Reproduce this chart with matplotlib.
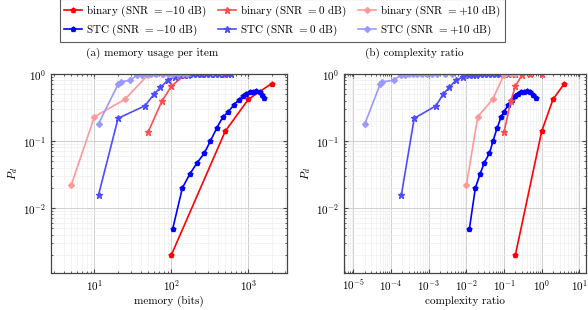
import matplotlib
matplotlib.use("Agg")
import matplotlib.pyplot as plt

plt.rcParams["font.family"] = ["cmr10", "DejaVu Serif"]
plt.rcParams["mathtext.fontset"] = "cm"
plt.rcParams["axes.formatter.use_mathtext"] = True
plt.rcParams["axes.unicode_minus"] = False

# binary, SNR = -10 dB
bin_m10_mem = [100, 500, 1000, 2000]
bin_m10_cx = [0.2, 1.0, 2.0, 4.0]
bin_m10_pd = [0.002, 0.14, 0.42, 0.72]

# binary, SNR = 0 dB
bin_0_mem = [50, 75, 100, 150, 250, 500]
bin_0_cx = [0.1, 0.15, 0.2, 0.3, 0.5, 1.0]
bin_0_pd = [0.137, 0.39, 0.66, 0.97, 1.0, 1.0]

# binary, SNR = +10 dB
bin_p10_mem = [5, 10, 25, 50, 75, 100]
bin_p10_cx = [0.01, 0.02, 0.05, 0.1, 0.15, 0.2]
bin_p10_pd = [0.022, 0.23, 0.42, 0.98, 1.0, 1.0]

# STC, SNR = -10 dB
stc_m10_mem = [104, 139, 173, 215, 268, 321, 387, 463, 550, 645,
               748, 850, 942, 1040, 1150, 1260, 1400, 1520, 1600]
stc_m10_cx = [0.012, 0.0173, 0.023, 0.0297, 0.041, 0.051, 0.065, 0.083, 0.10, 0.13,
              0.166, 0.2, 0.24, 0.285, 0.335, 0.40, 0.48, 0.58, 0.69]
stc_m10_pd = [0.0049, 0.020, 0.032, 0.047, 0.066, 0.10, 0.155, 0.226, 0.275, 0.345,
              0.41, 0.47, 0.50, 0.53, 0.54, 0.55, 0.53, 0.48, 0.44]

# STC, SNR = 0 dB
stc_0_mem = [11.3, 20.3, 45.5, 59.4, 72, 90, 110, 128, 145, 165,
             190, 215, 245, 280, 320, 365, 420, 480, 540, 600]
stc_0_cx = [1.87e-4, 4.1e-4, 1.56e-3, 2.4e-3, 3.5e-3, 5.3e-3, 8.3e-3, 0.0115, 0.0145, 0.018,
            0.023, 0.029, 0.037, 0.047, 0.06, 0.077, 0.1, 0.125, 0.16, 0.2]
stc_0_pd = [0.0156, 0.218, 0.336, 0.50, 0.63, 0.81, 0.91, 0.95, 0.97, 0.98,
            0.99, 0.99, 1.0, 1.0, 1.0, 1.0, 1.0, 1.0, 1.0, 1.0]

# STC, SNR = +10 dB
stc_p10_mem = [11.3, 20.5, 22, 29, 36, 42, 48, 55, 64, 78, 91, 105, 123, 143, 160]
stc_p10_cx = [2.0e-5, 5.2e-5, 5.8e-5, 1.17e-4, 1.8e-4, 2.4e-4, 2.9e-4, 3.9e-4,
              5.0e-4, 6.8e-4, 9.2e-4, 1.25e-3, 1.7e-3, 2.75e-3, 4.1e-3]
stc_p10_pd = [0.18, 0.72, 0.76, 0.81, 0.96, 0.98, 0.99, 1.0,
              1.0, 1.0, 1.0, 1.0, 1.0, 1.0, 1.0]

series = [
    (r"binary (SNR $= -10$ dB)", bin_m10_mem, bin_m10_cx, bin_m10_pd, "#ff0000", "p"),
    (r"STC (SNR $= -10$ dB)", stc_m10_mem, stc_m10_cx, stc_m10_pd, "#0000ff", "p"),
    (r"binary (SNR $= 0$ dB)", bin_0_mem, bin_0_cx, bin_0_pd, "#ff4d4d", "*"),
    (r"STC (SNR $= 0$ dB)", stc_0_mem, stc_0_cx, stc_0_pd, "#4d4dff", "*"),
    (r"binary (SNR $= +10$ dB)", bin_p10_mem, bin_p10_cx, bin_p10_pd, "#ff9999", "D"),
    (r"STC (SNR $= +10$ dB)", stc_p10_mem, stc_p10_cx, stc_p10_pd, "#9999ff", "D"),
]

fig = plt.figure(figsize=(5.88, 3.10), dpi=100)
ax1 = fig.add_axes([51 / 588, 37 / 310, 236 / 588, 199 / 310])
ax2 = fig.add_axes([344 / 588, 37 / 310, 242 / 588, 199 / 310])

handles = []
for label, mem, cx, pd_, color, marker in series:
    ms = 4.5 if marker == "*" else 3.5
    if marker == "D":
        ms = 3.0
    h, = ax1.plot(mem, pd_, color=color, marker=marker, markersize=ms, lw=1.2, label=label)
    ax2.plot(cx, pd_, color=color, marker=marker, markersize=ms, lw=1.2)
    handles.append(h)

for ax in (ax1, ax2):
    ax.set_xscale("log")
    ax.set_yscale("log")
    ax.set_ylim(1.07e-3, 1.0)
    ax.grid(True, which="major", color="#d0d0d0", lw=0.7)
    ax.grid(True, which="minor", color="#eeeeee", lw=0.5)
    ax.set_axisbelow(True)
    ax.tick_params(which="both", direction="in", top=True, right=True,
                   labelsize=8, color="#444444")
    ax.tick_params(which="major", length=3)
    ax.tick_params(which="minor", length=1.5)
    for s in ax.spines.values():
        s.set_color("#444444")
        s.set_linewidth(0.9)
    ax.set_ylabel(r"$P_d$", fontsize=8, labelpad=2)

ax1.set_xlim(2.73, 3170)
ax2.set_xlim(5.6e-6, 15)
ax1.set_xlabel("memory (bits)", fontsize=8, labelpad=2)
ax2.set_xlabel("complexity ratio", fontsize=8, labelpad=2)

fig.text(152 / 588, 1 - 53 / 310, "(a) memory usage per item", fontsize=8,
         ha="center", va="center")
fig.text(414 / 588, 1 - 53 / 310, "(b) complexity ratio", fontsize=8,
         ha="center", va="center")

leg = fig.legend(handles=handles, ncol=3, loc="center",
                 bbox_to_anchor=(282.5 / 588, 1 - 20.5 / 310),
                 fontsize=8, frameon=True, fancybox=False, edgecolor="#333333",
                 handlelength=1.6, columnspacing=1.0, handletextpad=0.4,
                 borderpad=0.35, labelspacing=0.35, borderaxespad=0.3)
leg.get_frame().set_linewidth(0.8)

fig.savefig("out.png", dpi=100)
